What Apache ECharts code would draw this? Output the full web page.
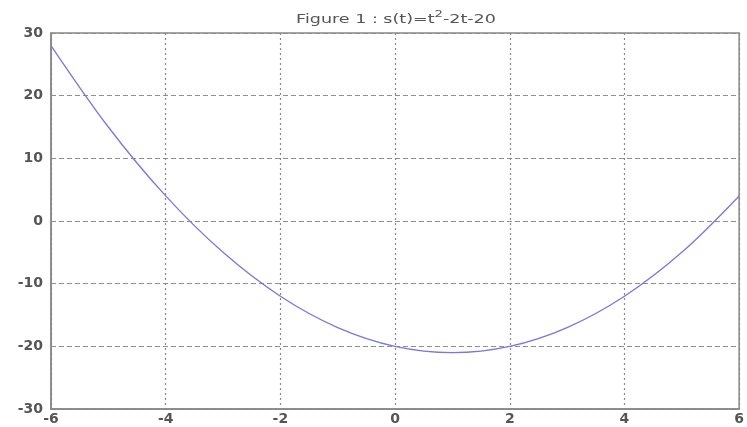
<!DOCTYPE html>
<html>
<head>
<meta charset="utf-8">
<script src="https://cdn.jsdelivr.net/npm/echarts@6/dist/echarts.min.js"></script>
<style>
html,body{margin:0;padding:0;background:#fff;}
#chart{width:747px;height:427px;}
</style>
</head>
<body>
<div id="chart"></div>
<script>
// values
const tValues = [-6, -5, -4, -3, -2, -1, 0, 1, 2, 3, 4, 5, 6];
const sValues = [28, 15, 4, -5, -12, -17, -20, -21, -20, -17, -12, -5, 4];
const xTicks = [-6, -4, -2, 0, 2, 4, 6];
const yTicks = [-30, -20, -10, 0, 10, 20, 30];
const titleText = '{n|Figure 1 : s(t)=t}{s|2}{n|-2t-20}';

const chart = echarts.init(document.getElementById('chart'));
const axisLineStyle = {show: true, onZero: false, lineStyle: {color: '#888', width: 1.5}};
const labelStyle = {color: '#555', fontFamily: 'DejaVu Sans', fontWeight: 'bold', fontSize: 14};

chart.setOption({
  animation: false,
  graphic: [{
    type: 'text',
    x: 396,
    y: 18,
    scaleX: 1.46,
    z: 10,
    style: {
      text: titleText,
      align: 'center',
      verticalAlign: 'middle',
      rich: {
        n: {fontSize: 12, fill: '#555', fontFamily: 'DejaVu Sans', verticalAlign: 'bottom', lineHeight: 16},
        s: {fontSize: 9, fill: '#555', fontFamily: 'DejaVu Sans', verticalAlign: 'top', lineHeight: 16, padding: [0, 0, 5, 0]}
      }
    }
  }],
  grid: {left: 51, right: 1, top: 33, bottom: 18, show: true, borderColor: '#888', borderWidth: 1.5},
  xAxis: {
    type: 'value', min: xTicks[0], max: xTicks[xTicks.length - 1], interval: 2,
    axisLine: axisLineStyle,
    axisTick: {show: false},
    splitLine: {show: true, lineStyle: {color: '#888', type: [2, 3], width: 1.2}},
    axisLabel: Object.assign({margin: 3}, labelStyle)
  },
  yAxis: {
    type: 'value', min: yTicks[0], max: yTicks[yTicks.length - 1], interval: 10,
    axisLine: axisLineStyle,
    axisTick: {show: false},
    splitLine: {show: true, lineStyle: {color: '#8f8f8f', type: [5, 3], width: 1}},
    axisLabel: Object.assign({margin: 8}, labelStyle)
  },
  series: [{
    type: 'line',
    data: tValues.map((t, i) => [t, sValues[i]]),
    smooth: 0.35,
    showSymbol: false,
    lineStyle: {color: '#7878dd', width: 1.3}
  }]
});
</script>
</body>
</html>
